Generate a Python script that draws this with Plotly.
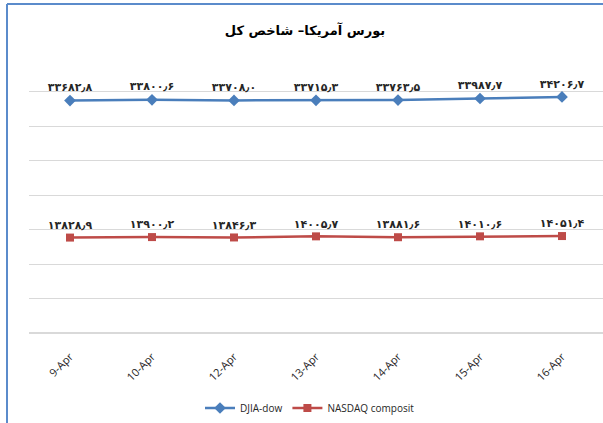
import plotly.graph_objects as go

dates = ["9-Apr", "10-Apr", "12-Apr", "13-Apr", "14-Apr", "15-Apr", "16-Apr"]
djia = [33682.8, 33800.6, 33708.0, 33715.3, 33763.5, 33987.7, 34206.7]
nasdaq = [13828.9, 13900.2, 13846.3, 14005.7, 13881.6, 14010.6, 14051.4]
series_names = ["DJIA-dow", "NASDAQ composit"]
title_text = "بورس آمریکا– شاخص کل"

PERSIAN = str.maketrans("0123456789.", "۰۱۲۳۴۵۶۷۸۹٫")


def fa(v):
    return "<b>" + f"{v:.1f}".translate(PERSIAN) + "</b>"


fig = go.Figure()
fig.add_trace(go.Scatter(
    x=dates, y=djia, name=series_names[0], mode="lines+markers+text",
    line=dict(color="#4A7EBB", width=2.5),
    marker=dict(symbol="diamond", size=9, color="#4A7EBB"),
    text=[fa(v) for v in djia], textposition="top center",
    textfont=dict(size=11, color="#262626", family="DejaVu Sans"),
    cliponaxis=False,
))
fig.add_trace(go.Scatter(
    x=dates, y=nasdaq, name=series_names[1], mode="lines+markers+text",
    line=dict(color="#BE4B48", width=2.5),
    marker=dict(symbol="square", size=8, color="#BE4B48"),
    text=[fa(v) for v in nasdaq], textposition="top center",
    textfont=dict(size=11, color="#262626", family="DejaVu Sans"),
    cliponaxis=False,
))

fig.update_layout(
    width=603, height=423,
    margin=dict(l=29, r=0, t=57, b=90, autoexpand=False),
    paper_bgcolor="white", plot_bgcolor="white",
    title=dict(text="<b>" + title_text + "</b>", x=305 / 603, xanchor="center",
               y=1 - 30 / 423, yanchor="middle", yref="container",
               font=dict(size=13, color="#000000", family="DejaVu Sans")),
    showlegend=True,
    legend=dict(orientation="h", x=310 / 603, xref="container", xanchor="center",
                y=1 - 408 / 423, yref="container", yanchor="middle",
                font=dict(size=10, color="#262626", family="Open Sans")),
    xaxis=dict(type="category", range=[-0.5, len(dates) - 0.5], tickangle=-45,
               showgrid=False, showline=False,
               ticks="outside", ticklen=12, tickcolor="rgba(0,0,0,0)",
               tickfont=dict(size=11, color="#262626", family="Open Sans")),
    yaxis=dict(range=[0, 40000], dtick=5000, showticklabels=False, showgrid=True,
               gridcolor="#D9D9D9", gridwidth=1, zeroline=True, zerolinecolor="#D9D9D9",
               showline=False),
    shapes=[
        dict(type="line", xref="paper", yref="paper", x0=-22 / 574, x1=1.0,
             y0=1 + 53 / 276, y1=1 + 53 / 276, line=dict(color="#5B8BCB", width=2)),
        dict(type="line", xref="paper", yref="paper", x0=-22 / 574, x1=-22 / 574,
             y0=1 + 53 / 276, y1=-90 / 276, line=dict(color="#5B8BCB", width=2)),
    ],
)

fig.write_html("out.html", config={"displayModeBar": False},
               post_script="document.body.style.margin='0';")
